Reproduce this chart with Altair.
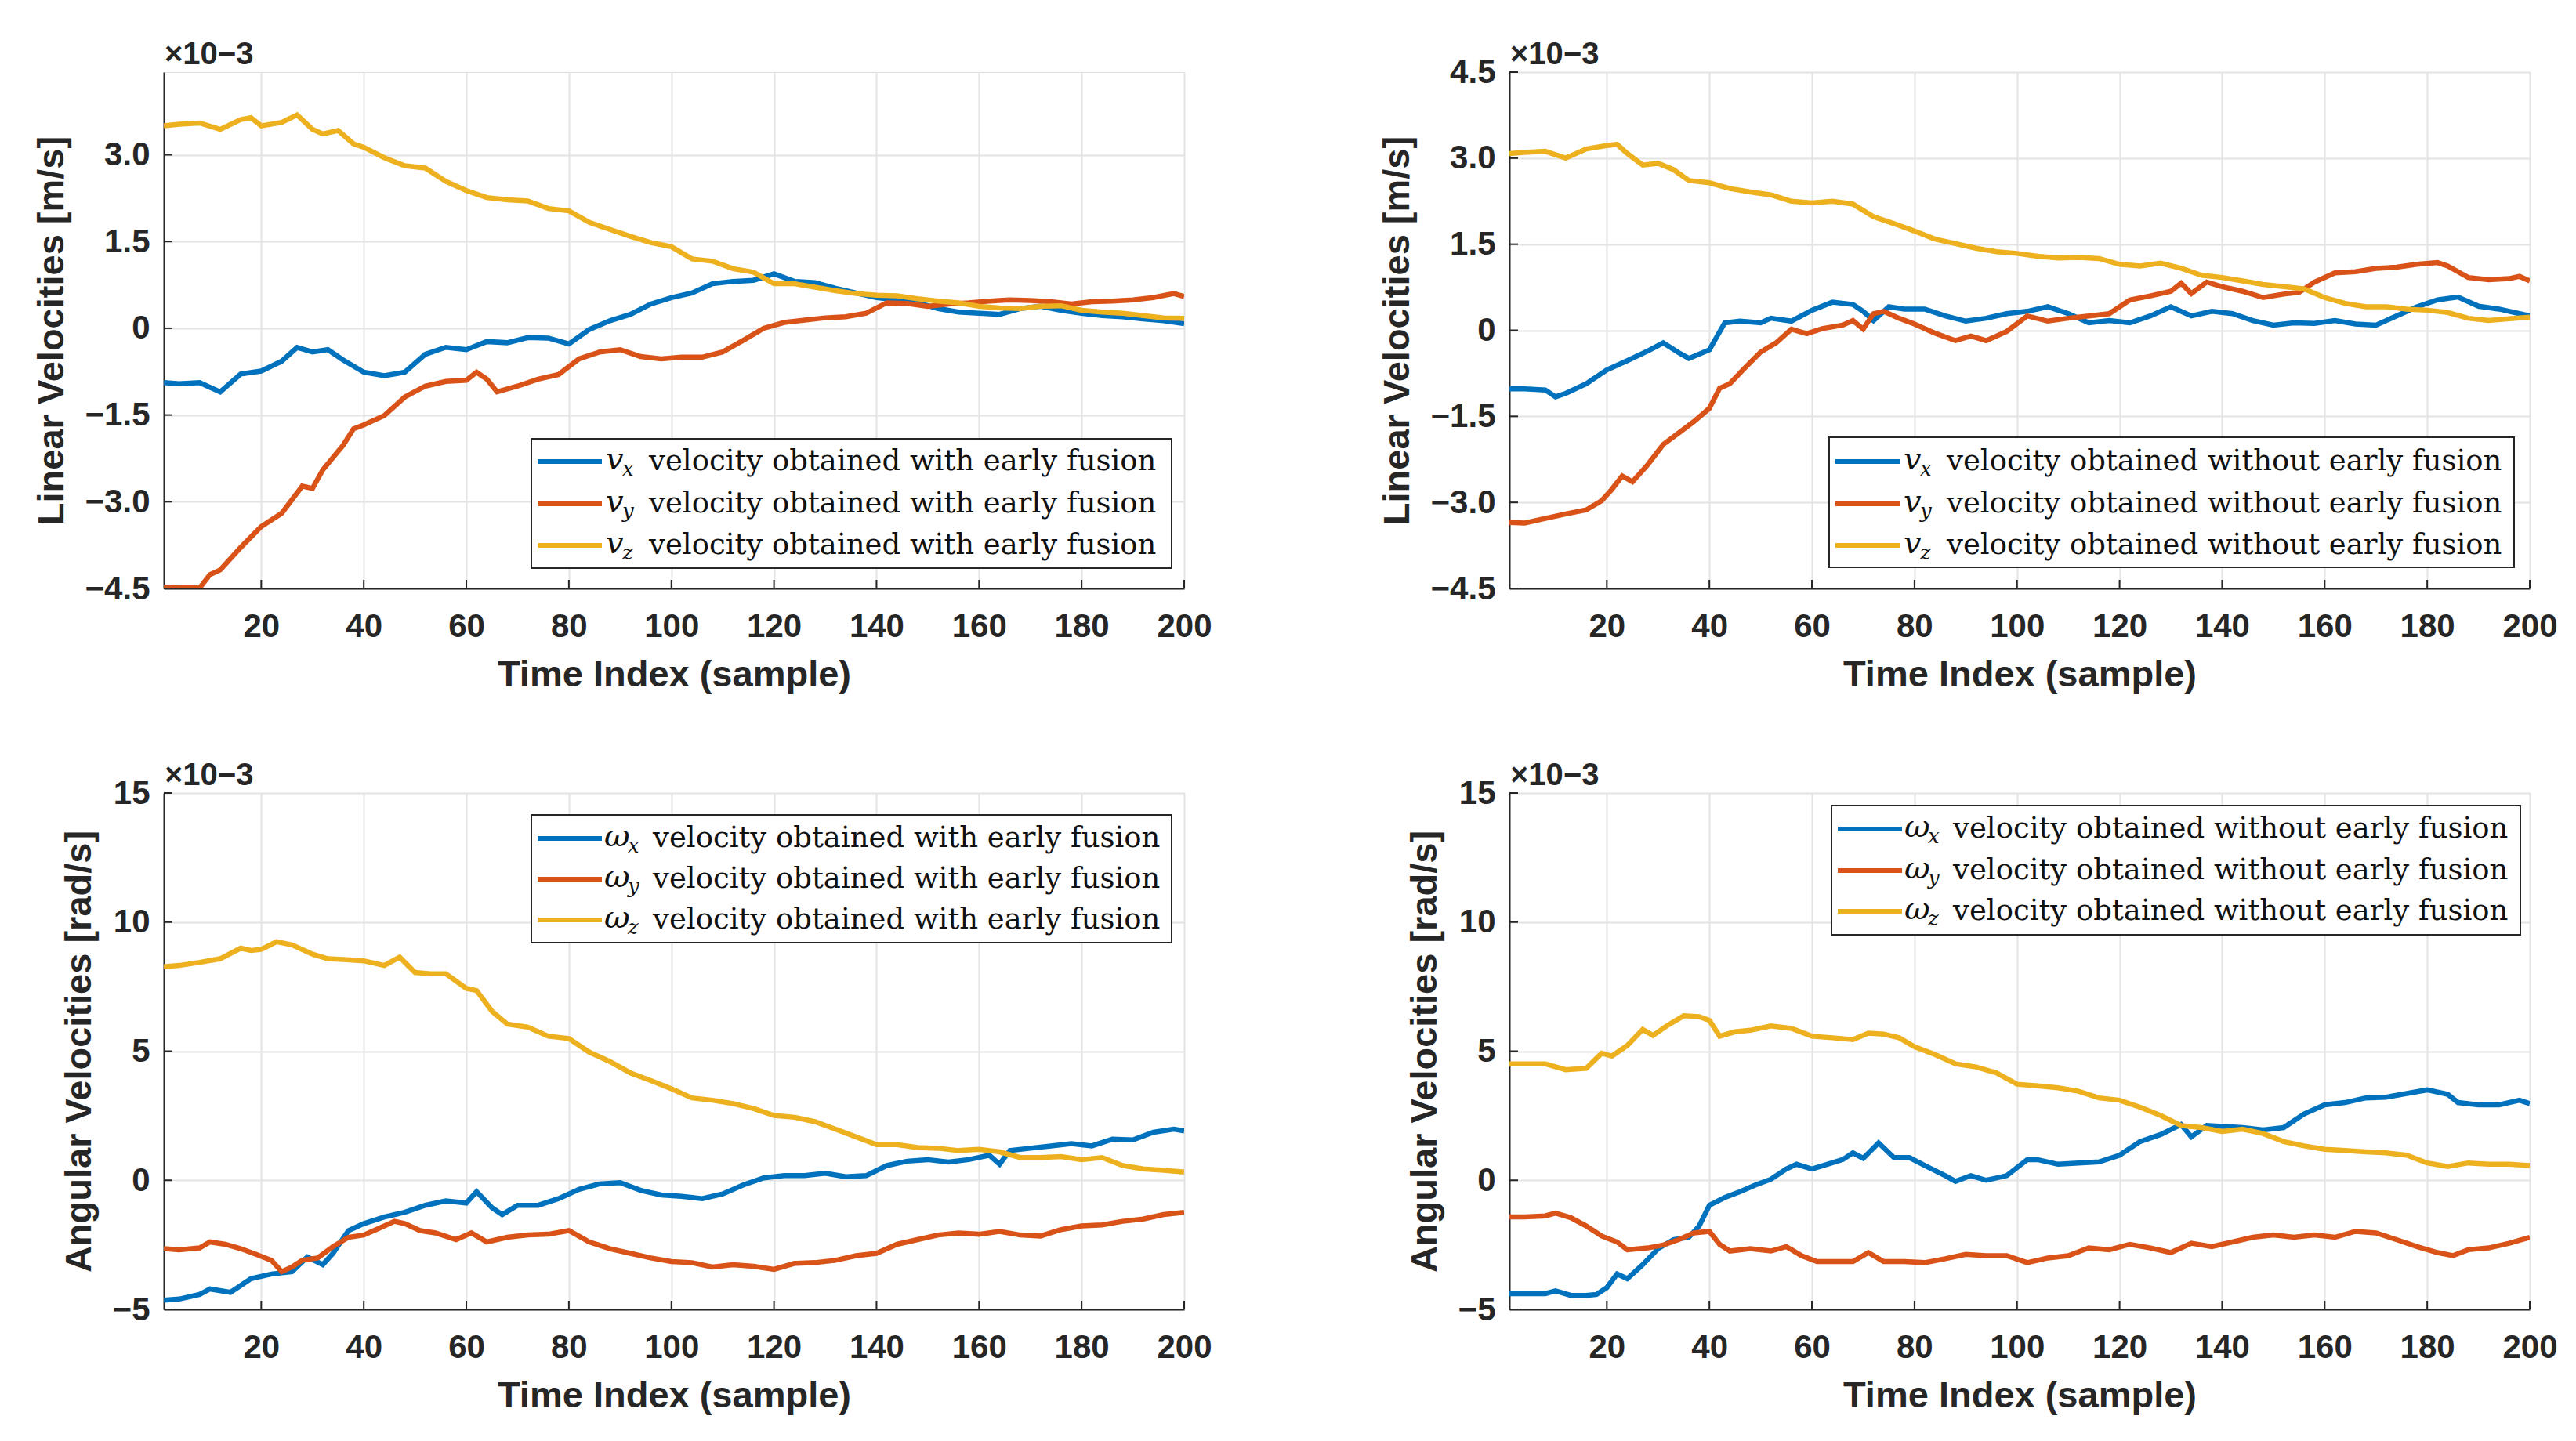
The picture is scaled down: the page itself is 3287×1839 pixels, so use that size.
import altair as alt
import pandas as pd

W, H = 1302, 659
BLUE, RED, YEL = "#0072BD", "#D95319", "#EDB120"
TXT = "#262626"
GRID = "#e3e3e3"
SANS = "Liberation Sans"
SERIF = "DejaVu Serif"

X_TICKS = [20, 40, 60, 80, 100, 120, 140, 160, 180, 200]
LIN_TICKS_TL = [-4.5, -3.0, -1.5, 0, 1.5, 3.0]
LIN_TICKS_TR = [-4.5, -3.0, -1.5, 0, 1.5, 3.0, 4.5]
ANG_TICKS = [-5, 0, 5, 10, 15]

# ---------------- top-left: linear, with early fusion (x1e-3 m/s)
tl_vx_s = [1,4,8,12,16,20,24,27,30,33,36,40,44,48,52,56,60,64,68,72,76,80,84,88,92,96,100,
           104,108,112,116,120,124,128,132,136,140,144,148,152,156,160,164,168,172,176,180,184,188,192,196,200]
tl_vx_v = [-0.94,-0.96,-0.94,-1.10,-0.79,-0.74,-0.57,-0.33,-0.41,-0.37,-0.55,-0.76,-0.82,-0.76,-0.45,-0.33,-0.37,
           -0.23,-0.25,-0.16,-0.17,-0.27,-0.02,0.13,0.24,0.42,0.53,0.61,0.77,0.81,0.83,0.94,0.81,0.79,0.69,0.61,
           0.53,0.49,0.44,0.34,0.28,0.26,0.24,0.34,0.38,0.31,0.26,0.22,0.20,0.16,0.13,0.08]
tl_vy_s = [1,4,8,10,12,16,20,24,28,30,32,36,38,40,44,48,52,56,60,62,64,66,70,74,78,82,86,90,94,98,102,106,110,
           114,118,122,126,130,134,138,142,146,150,154,158,162,166,170,174,178,182,186,190,194,198,200]
tl_vy_v = [-4.48,-4.49,-4.49,-4.26,-4.18,-3.79,-3.43,-3.20,-2.73,-2.77,-2.45,-2.02,-1.74,-1.67,-1.51,-1.19,-1.00,
           -0.92,-0.90,-0.76,-0.88,-1.10,-1.00,-0.88,-0.80,-0.53,-0.41,-0.37,-0.49,-0.53,-0.50,-0.50,-0.41,-0.21,
           0.00,0.10,0.14,0.18,0.20,0.26,0.44,0.43,0.38,0.42,0.44,0.47,0.49,0.48,0.46,0.42,0.46,0.47,0.49,0.53,0.60,0.55]
tl_vz_s = [1,4,8,12,16,18,20,24,27,30,32,35,38,40] + list(range(44, 201, 4))
tl_vz_v = [3.50,3.53,3.55,3.44,3.61,3.64,3.50,3.56,3.69,3.44,3.36,3.42,3.19,3.13,
           2.95,2.81,2.77,2.54,2.38,2.26,2.22,2.20,2.07,2.03,1.83,1.71,1.59,1.48,1.41,
           1.20,1.16,1.03,0.97,0.77,0.77,0.71,0.65,0.60,0.57,0.56,0.51,0.47,0.44,0.38,
           0.35,0.34,0.38,0.39,0.31,0.28,0.26,0.22,0.18,0.17]

# ---------------- top-right: linear, without early fusion
tr_vx_s = [1,4,8,10,12,16,20,24,28,31,34,36,40,43,46,50,52,56,60,64,68,70,72,75,78,82,86,90,94,98,
           102,106,110,114,118,122,126,130,134,138,142,146,150,154,158,162,166,170,174,178,182,186,190,194,198,200]
tr_vx_v = [-1.02,-1.02,-1.04,-1.16,-1.10,-0.93,-0.69,-0.53,-0.36,-0.22,-0.39,-0.49,-0.34,0.13,0.16,0.13,0.21,
           0.16,0.35,0.49,0.45,0.33,0.17,0.41,0.37,0.37,0.25,0.16,0.21,0.29,0.33,0.41,0.29,0.13,0.17,0.13,0.25,
           0.41,0.25,0.33,0.29,0.17,0.09,0.13,0.12,0.17,0.11,0.09,0.25,0.41,0.53,0.58,0.42,0.37,0.29,0.25]
tr_vy_s = [1,4,8,12,16,19,21,23,25,28,31,34,37,40,42,44,47,50,53,56,59,62,66,68,70,72,74,77,80,84,88,91,94,98,
           102,106,110,114,118,122,126,130,132,134,137,140,144,148,152,155,158,162,166,170,174,178,182,184,188,
           192,196,198,200]
tr_vy_v = [-3.35,-3.36,-3.28,-3.20,-3.13,-2.97,-2.77,-2.54,-2.64,-2.34,-1.99,-1.79,-1.59,-1.36,-1.01,-0.93,-0.65,
           -0.38,-0.22,0.02,-0.06,0.03,0.09,0.17,0.02,0.29,0.33,0.21,0.11,-0.05,-0.18,-0.10,-0.18,-0.02,0.25,0.16,
           0.21,0.25,0.29,0.53,0.60,0.68,0.82,0.64,0.84,0.76,0.68,0.57,0.63,0.66,0.84,1.00,1.02,1.08,1.10,1.15,
           1.18,1.12,0.92,0.88,0.90,0.94,0.86]
tr_vz_s = [1,4,8,12,16,20,22,24,27,30,33,36,40] + list(range(44, 201, 4))
tr_vz_v = [3.08,3.10,3.12,3.00,3.16,3.22,3.24,3.08,2.88,2.91,2.80,2.61,2.57,
           2.47,2.41,2.36,2.25,2.22,2.25,2.20,1.98,1.86,1.73,1.59,1.51,1.43,1.37,1.34,1.29,1.26,1.27,1.25,1.15,
           1.12,1.17,1.08,0.96,0.92,0.86,0.80,0.76,0.72,0.57,0.47,0.41,0.41,0.37,0.35,0.31,0.21,0.17,0.20,0.23]

# ---------------- bottom-left: angular, with early fusion (x1e-3 rad/s)
bl_wx_s = [1,4,8,10,14,18,22,26,29,32,34,37,40,44,48,52,56,60,62,65,67,70,74,78,82,86,90,94,98,102,106,110,
           114,118,122,126,130,134,138,142,146,150,154,158,162,164,166,170,174,178,182,186,190,194,198,200]
bl_wx_v = [-4.64,-4.60,-4.42,-4.21,-4.34,-3.81,-3.63,-3.54,-2.97,-3.27,-2.83,-1.95,-1.68,-1.42,-1.24,-0.97,-0.80,
           -0.88,-0.44,-1.06,-1.33,-0.97,-0.97,-0.71,-0.35,-0.14,-0.09,-0.39,-0.57,-0.62,-0.71,-0.53,-0.18,0.09,
           0.18,0.18,0.27,0.14,0.18,0.57,0.74,0.80,0.71,0.80,0.97,0.62,1.15,1.24,1.33,1.42,1.33,1.59,1.56,1.86,1.98,1.91]
bl_wy_s = [1,4,8,10,13,16,19,22,24,26,28,31,34,37,40,43,46,48,51,54,58,61,64,68,72,76,80,84,88,92,96,100,
           104,108,112,116,120] + list(range(124, 201, 4))
bl_wy_v = [-2.65,-2.69,-2.62,-2.39,-2.48,-2.65,-2.87,-3.10,-3.54,-3.36,-3.10,-3.01,-2.57,-2.21,-2.12,-1.86,-1.59,
           -1.68,-1.95,-2.04,-2.30,-2.04,-2.39,-2.21,-2.12,-2.09,-1.95,-2.39,-2.65,-2.83,-3.01,-3.15,-3.19,-3.36,
           -3.27,-3.33,-3.45,
           -3.22,-3.19,-3.10,-2.92,-2.83,-2.48,-2.30,-2.12,-2.04,-2.09,-1.98,-2.12,-2.16,-1.91,-1.77,-1.73,-1.59,
           -1.50,-1.33,-1.24]
bl_wz_s = [1,4,8,12,16,18,20,23,26,30,33,36,40,44,47,50,53,56,60,62,65,68] + list(range(72, 201, 4))
bl_wz_v = [8.27,8.32,8.44,8.58,8.99,8.90,8.94,9.24,9.12,8.76,8.58,8.55,8.50,8.32,8.64,8.05,8.00,8.00,7.43,7.35,
           6.55,6.05,
           5.93,5.58,5.49,4.96,4.60,4.16,3.86,3.54,3.19,3.10,2.97,2.78,2.51,2.44,2.27,1.98,1.68,1.38,1.38,1.27,
           1.24,1.15,1.20,1.10,0.88,0.88,0.92,0.80,0.88,0.57,0.44,0.39,0.32]

# ---------------- bottom-right: angular, without early fusion
br_wx_s = [1,4,8,10,13,16,18,20,22,24,27,30,33,36,38,40,43,46,49,52,55,57,60,63,66,68,70,73,76,79,82,86,88,91,
           94,98,102,104,108,112,116,120,124,128,132,134,137,140,144,148,152,156,160,164,168,172,176,180,184,186,
           190,194,198,200]
br_wx_v = [-4.39,-4.39,-4.39,-4.28,-4.46,-4.46,-4.42,-4.16,-3.63,-3.81,-3.27,-2.65,-2.30,-2.21,-1.77,-0.97,-0.67,
           -0.44,-0.18,0.04,0.44,0.62,0.44,0.62,0.80,1.06,0.85,1.45,0.88,0.88,0.57,0.18,-0.04,0.18,0.00,0.18,0.80,
           0.80,0.62,0.67,0.71,0.97,1.50,1.77,2.16,1.68,2.12,2.09,2.04,1.95,2.04,2.57,2.92,3.01,3.19,3.22,3.36,
           3.50,3.33,3.01,2.92,2.92,3.10,2.97]
br_wy_s = [1,4,8,10,13,16,19,22,24,28,31,34,37,40,42,44,48,52,55,58,61,65,68,71,74,78,82,86,90,94,98,102,106,
           110,114,118,122,126,130,134,138,142,146,150,154,158,162,166,170,174,178,182,185,188,192,196,200]
br_wy_v = [-1.42,-1.42,-1.38,-1.27,-1.45,-1.77,-2.16,-2.39,-2.69,-2.62,-2.51,-2.30,-2.04,-1.98,-2.48,-2.74,-2.65,
           -2.74,-2.57,-2.92,-3.15,-3.15,-3.15,-2.80,-3.15,-3.15,-3.19,-3.04,-2.87,-2.92,-2.92,-3.19,-3.01,-2.92,
           -2.62,-2.69,-2.48,-2.62,-2.80,-2.44,-2.57,-2.39,-2.21,-2.12,-2.21,-2.12,-2.21,-1.98,-2.04,-2.30,-2.57,
           -2.80,-2.92,-2.69,-2.62,-2.44,-2.21]
br_wz_s = [1,4,8,12,16,19,21,24,27,29,32,35,38,40,42,45,48,52,56,60,64,68,71,74,77,80] + list(range(84, 201, 4))
br_wz_v = [4.51,4.51,4.51,4.28,4.34,4.92,4.81,5.22,5.84,5.61,6.02,6.37,6.34,6.19,5.58,5.75,5.81,5.98,5.88,5.58,
           5.52,5.45,5.70,5.66,5.52,5.17,
           4.87,4.51,4.39,4.16,3.72,3.66,3.58,3.45,3.19,3.10,2.83,2.51,2.12,2.04,1.89,1.98,1.81,1.50,1.33,1.20,
           1.15,1.10,1.06,0.97,0.67,0.53,0.67,0.62,0.62,0.57]

DESC_WITH = "velocity obtained with early fusion"
DESC_WITHOUT = "velocity obtained without early fusion"
SCALE_NOTE = "×10−3"


def legend_layers(leg, sym, desc):
    one = pd.DataFrame({"a": [0]})
    layers = [
        alt.Chart(one).mark_rect(fill="white", stroke=TXT, strokeWidth=2).encode(
            x=alt.value(leg["x0"]), x2=alt.value(leg["x1"]),
            y=alt.value(leg["y0"]), y2=alt.value(leg["y1"]))
    ]
    sw = 21 if sym == "v" else 30
    for ry, col, sub in zip(leg["rows"], [BLUE, RED, YEL], ["x", "y", "z"]):
        layers.append(alt.Chart(one).mark_rule(color=col, strokeWidth=6).encode(
            x=alt.value(leg["l0"]), x2=alt.value(leg["l1"]), y=alt.value(ry)))
        layers.append(alt.Chart(one).mark_text(
            text=sym, font=SERIF, fontStyle="italic", fontSize=40, align="left",
            baseline="middle", color="#111111").encode(x=alt.value(leg["sx"]), y=alt.value(ry - 2)))
        layers.append(alt.Chart(one).mark_text(
            text=sub, font=SERIF, fontStyle="italic", fontSize=26, align="left",
            baseline="middle", color="#111111").encode(x=alt.value(leg["sx"] + sw), y=alt.value(ry + 10)))
        layers.append(alt.Chart(one).mark_text(
            text=desc, font=SERIF, fontSize=37, align="left",
            baseline="middle", color="#111111").encode(x=alt.value(leg["tx"]), y=alt.value(ry)))
    return layers


def panel(series, ydom, yticks, yfmt, ytitle, leg, sym, desc):
    rows = []
    names = []
    for name, s, v in series:
        names.append(name)
        for a, b in zip(s, v):
            rows.append({"s": a, "v": b, "k": name})
    df = pd.DataFrame(rows)
    xsc = alt.Scale(domain=[1, 200], nice=False, zero=False)
    ysc = alt.Scale(domain=ydom, nice=False, zero=False)
    xax = alt.Axis(values=X_TICKS, title="Time Index (sample)", grid=True, gridColor=GRID, gridWidth=2,
                   ticks=False, domainColor=TXT, domainWidth=2, labelFont=SANS, labelFontWeight="bold",
                   labelFontSize=42, labelColor=TXT, labelPadding=28, labelFlush=False,
                   titleFont=SANS, titleFontWeight="bold", titleFontSize=47, titleColor=TXT, titlePadding=18)
    yax = alt.Axis(values=yticks, labelExpr=yfmt, title=ytitle, grid=True, gridColor=GRID, gridWidth=2,
                   ticks=False, domainColor=TXT, domainWidth=2, labelFont=SANS, labelFontWeight="bold",
                   labelFontSize=42, labelColor=TXT, labelPadding=18, labelFlush=False,
                   titleFont=SANS, titleFontWeight="bold", titleFontSize=47, titleColor=TXT, titlePadding=18)
    lines = alt.Chart(df).mark_line(strokeWidth=6.5, clip=True).encode(
        x=alt.X("s:Q", scale=xsc, axis=xax),
        y=alt.Y("v:Q", scale=ysc, axis=yax),
        color=alt.Color("k:N", scale=alt.Scale(domain=names, range=[BLUE, RED, YEL]), legend=None),
    )
    xt = alt.Chart(pd.DataFrame({"s": X_TICKS})).mark_rule(color=TXT, strokeWidth=2).encode(
        x=alt.X("s:Q", scale=xsc, axis=xax), y=alt.value(H), y2=alt.value(H - 11))
    yt = alt.Chart(pd.DataFrame({"v": yticks})).mark_rule(color=TXT, strokeWidth=2).encode(
        y=alt.Y("v:Q", scale=ysc, axis=yax), x=alt.value(0), x2=alt.value(11))
    note = alt.Chart(pd.DataFrame({"a": [0]})).mark_text(
        text=SCALE_NOTE, font=SANS, fontWeight="bold", fontSize=40, align="left",
        baseline="alphabetic", color=TXT).encode(x=alt.value(1), y=alt.value(-10))
    layers = [lines, xt, yt] + legend_layers(leg, sym, desc) + [note]
    return alt.layer(*layers).properties(width=W, height=H)


LIN_FMT = "datum.value == 0 ? '0' : format(datum.value, '.1f')"
ANG_FMT = "format(datum.value, 'd')"

p1 = panel([("vx", tl_vx_s, tl_vx_v), ("vy", tl_vy_s, tl_vy_v), ("vz", tl_vz_s, tl_vz_v)],
           [-4.5, 4.43], LIN_TICKS_TL, LIN_FMT, "Linear Velocities [m/s]",
           dict(x0=469, x1=1286, y0=468, y1=633, rows=[497, 551, 604], l0=477, l1=559, sx=564, tx=619),
           "v", DESC_WITH)
p2 = panel([("vx", tr_vx_s, tr_vx_v), ("vy", tr_vy_s, tr_vy_v), ("vz", tr_vz_s, tr_vz_v)],
           [-4.5, 4.5], LIN_TICKS_TR, LIN_FMT, "Linear Velocities [m/s]",
           dict(x0=408, x1=1282, y0=466, y1=632, rows=[497, 551, 604], l0=416, l1=498, sx=503, tx=558),
           "v", DESC_WITHOUT)
p3 = panel([("wx", bl_wx_s, bl_wx_v), ("wy", bl_wy_s, bl_wy_v), ("wz", bl_wz_s, bl_wz_v)],
           [-5, 15], ANG_TICKS, ANG_FMT, "Angular Velocities [rad/s]",
           dict(x0=469, x1=1286, y0=28, y1=191, rows=[58, 110, 162], l0=477, l1=559, sx=562, tx=624),
           "ω", DESC_WITH)
p4 = panel([("wx", br_wx_s, br_wx_v), ("wy", br_wy_s, br_wy_v), ("wz", br_wz_s, br_wz_v)],
           [-5, 15], ANG_TICKS, ANG_FMT, "Angular Velocities [rad/s]",
           dict(x0=411, x1=1290, y0=16, y1=181, rows=[46, 99, 151], l0=419, l1=501, sx=504, tx=566),
           "ω", DESC_WITHOUT)

chart = alt.concat(p1, p2, p3, p4, columns=2, spacing={"row": 261, "column": 415}, bounds="flush").properties(
    padding={"left": 33, "top": 41, "right": 0, "bottom": 5}
).configure_view(stroke=None).configure(background="white")

chart.save("out.html", embed_options={"renderer": "svg", "actions": False})
